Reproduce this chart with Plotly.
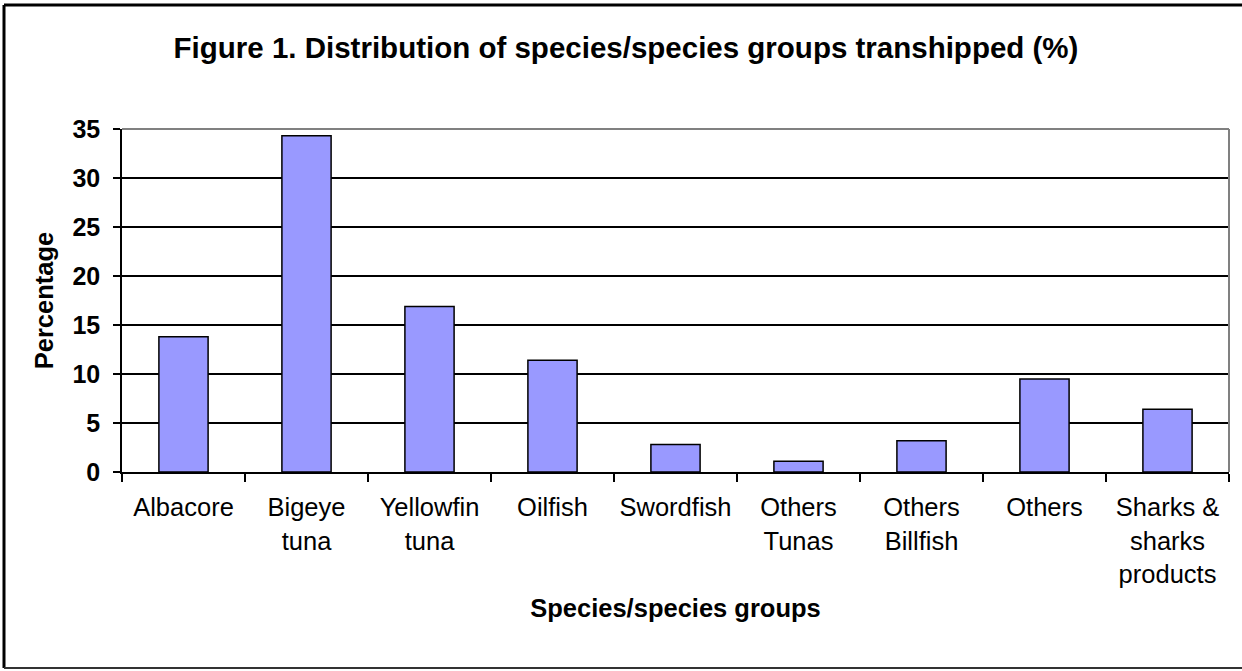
import plotly.graph_objects as go

categories = ["Albacore", "Bigeye<br>tuna", "Yellowfin<br>tuna", "Oilfish", "Swordfish",
              "Others<br>Tunas", "Others<br>Billfish", "Others", "Sharks &<br>sharks<br>products"]
values = [13.8, 34.3, 16.9, 11.4, 2.8, 1.1, 3.2, 9.5, 6.4]
y_ticks = [0, 5, 10, 15, 20, 25, 30, 35]

FONT = "Liberation Sans, Arial"

fig = go.Figure()
fig.add_trace(go.Bar(
    x=categories, y=values, width=0.4,
    marker=dict(color="#9999FF", line=dict(color="black", width=1.5)),
))

fig.update_layout(
    width=1242, height=671,
    margin=dict(l=122, r=13, t=129, b=199),
    paper_bgcolor="white", plot_bgcolor="white",
    font=dict(family=FONT, color="black", size=25),
    showlegend=False,
    title=dict(text="<b>Figure 1. Distribution of species/species groups transhipped (%)</b>",
               x=626 / 1242, xref="container", xanchor="center",
               y=1 - 48 / 671, yref="container", yanchor="middle",
               font=dict(size=29.5, family=FONT, color="black")),
)

fig.update_xaxes(
    type="category", tickson="boundaries", ticks="outside", ticklen=8, tickcolor="black",
    tickwidth=1.5, showline=True, linecolor="black", linewidth=1.5,
    tickfont=dict(size=25.5), showgrid=False, ticklabelstandoff=12,
    title=dict(text="<b>Species/species groups</b>", font=dict(size=25.5), standoff=12),
)
fig.update_yaxes(
    range=[0, 35], tickvals=y_ticks, ticks="outside", ticklen=7, tickcolor="black",
    tickwidth=1.5, showline=True, linecolor="black", linewidth=1.5,
    showgrid=True, gridcolor="black", gridwidth=1.5, zeroline=False,
    tickfont=dict(size=25, weight="bold"), ticklabelstandoff=8,
    title=dict(text="<b>Percentage</b>", font=dict(size=25.5), standoff=12),
)

# gray plot border (top and right)
fig.add_shape(type="line", xref="paper", yref="paper", x0=0, x1=1, y0=1, y1=1,
              line=dict(color="#808080", width=2))
fig.add_shape(type="line", xref="paper", yref="paper", x0=1, x1=1, y0=0, y1=1,
              line=dict(color="#808080", width=2))
# outer chart frame: top, left, bottom edges (right edge lies beyond the visible area)
fx0 = (4 - 122) / 1107
fy0 = (472 - 668) / 343
fy1 = (472 - 5) / 343
for (x0, y0, x1, y1, c, w) in [(fx0, fy1, 1.02, fy1, "black", 3),
                               (fx0, fy0, fx0, fy1, "black", 3),
                               (fx0, fy0, 1.02, fy0, "#333333", 2)]:
    fig.add_shape(type="line", xref="paper", yref="paper", x0=x0, y0=y0, x1=x1, y1=y1,
                  line=dict(color=c, width=w), layer="above")

fig.write_html("out.html", config={"displayModeBar": False},
               post_script="document.body.style.margin='0';document.body.style.padding='0';")
